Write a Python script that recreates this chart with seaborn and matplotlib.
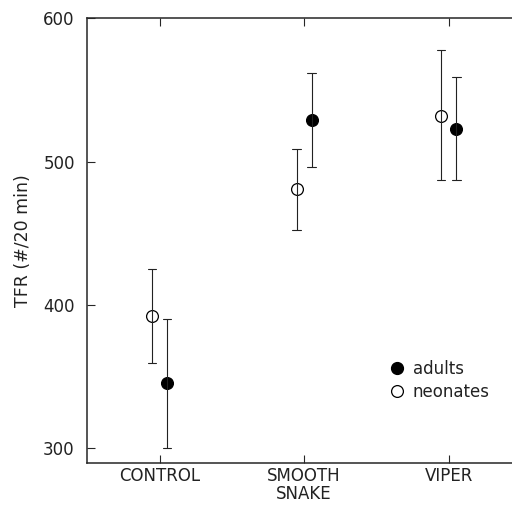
import matplotlib
matplotlib.use("Agg")
import matplotlib.pyplot as plt
from matplotlib.lines import Line2D
import pandas as pd
import seaborn as sns

sns.set_style("ticks")
plt.rcParams["font.family"] = ["DejaVu Sans"]

# values (TFR, #/20 min)
groups = ["CONTROL", "SMOOTH\nSNAKE", "VIPER"]
adults_mean = [345, 529, 523]
adults_low = [300, 496, 487]
adults_high = [390, 562, 559]
neonates_mean = [392, 481, 532]
neonates_low = [359, 452, 487]
neonates_high = [425, 509, 578]

rows = []
for i, g in enumerate(groups):
	for v in (neonates_low[i], neonates_mean[i], neonates_high[i]):
		rows.append({"group": g, "age": "neonates", "tfr": v})
	for v in (adults_low[i], adults_mean[i], adults_high[i]):
		rows.append({"group": g, "age": "adults", "tfr": v})
df = pd.DataFrame(rows)

fig = plt.figure(figsize=(5.12, 5.05), dpi=100)
ax = fig.add_axes([0.1705, 0.0832, 0.847, 0.8806])

sns.pointplot(
	data=df, x="group", y="tfr", hue="age", order=groups,
	hue_order=["neonates", "adults"],
	palette={"neonates": "white", "adults": "black"},
	estimator="median", errorbar=lambda x: (x.min(), x.max()),
	dodge=0.105, linestyle="none", markers="o", markersize=8.5,
	markeredgecolor="black", markeredgewidth=0.9,
	capsize=0.06, err_kws={"color": "#222222", "linewidth": 0.8},
	legend=False, ax=ax,
)

ax.set_xlim(-0.5, 2.5)
ax.set_ylim(289.5, 600)
ax.set_yticks([300, 400, 500, 600])
ax.set_xlabel("")
ax.set_ylabel("TFR (#/20 min)", fontsize=12.5, labelpad=8, color="#222222")
ax.tick_params(axis="both", direction="in", length=6, width=0.8,
	labelsize=12, labelcolor="#222222")
ax.tick_params(axis="x", top=True, pad=3)
ax.tick_params(axis="y", pad=9)
for t in ax.get_xticklabels():
	t.set_linespacing(1.0)
for s in ax.spines.values():
	s.set_linewidth(1.1)

handles = [
	Line2D([], [], linestyle="none", marker="o", markersize=8.5,
		markerfacecolor="black", markeredgecolor="black", label="adults"),
	Line2D([], [], linestyle="none", marker="o", markersize=8.5,
		markerfacecolor="white", markeredgecolor="black", markeredgewidth=0.9,
		label="neonates"),
]
ax.legend(handles=handles, loc="center left", bbox_to_anchor=(0.66, 0.186),
	frameon=False, fontsize=12, handletextpad=0.45, labelspacing=0.3,
	handlelength=1.0, labelcolor="#222222")

plt.savefig("out.png", dpi=100)
plt.close()
